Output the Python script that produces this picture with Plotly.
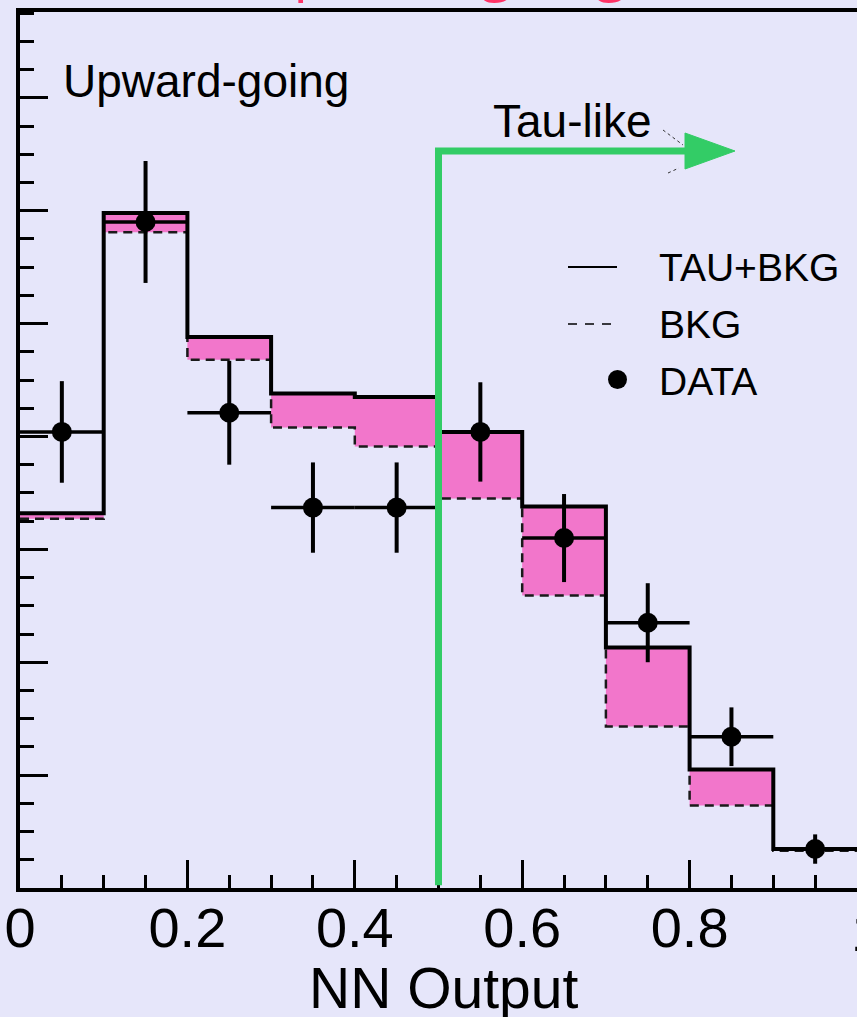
import plotly.graph_objects as go

# Neural-network output histogram, upward-going sample
bin_edges = [0.0, 0.1, 0.2, 0.3, 0.4, 0.5, 0.6, 0.7, 0.8, 0.9, 1.0]
bin_centers = [0.05, 0.15, 0.25, 0.35, 0.45, 0.55, 0.65, 0.75, 0.85, 0.95]
tau_plus_bkg = [33.2, 59.8, 48.8, 43.8, 43.5, 40.4, 33.8, 21.3, 10.5, 3.45]
bkg_only = [32.7, 58.1, 46.8, 40.8, 39.1, 34.5, 25.9, 14.3, 7.3, 3.3]
data_counts = [40.4, 59.0, 42.1, 33.7, 33.7, 40.4, 31.0, 23.5, 13.4, 3.45]
data_errors = [4.5, 5.4, 4.6, 4.0, 4.0, 4.4, 3.9, 3.5, 2.6, 1.3]
bin_half_width = [0.05] * 10

x_tick_vals = [0, 0.2, 0.4, 0.6, 0.8]
x_tick_text = ["0", "0.2", "0.4", "0.6", "0.8"]
x_end_label = "1"

legend_labels = ["TAU+BKG", "BKG", "DATA"]
cut_value = 0.5

BG = "#E6E6FA"
PINK = "#F276CB"
GREEN = "#33CC66"
TXT_FONT = "Liberation Sans, Arial, sans-serif"


def step(vals):
    # repeat the last value so the final bin gets its horizontal segment
    return list(vals) + [vals[-1]]


fig = go.Figure()

# lower edge of the shaded band (invisible)
fig.add_trace(go.Scatter(
    x=bin_edges, y=step(bkg_only), mode="lines", line_shape="hv",
    line=dict(width=0, color="rgba(0,0,0,0)"), hoverinfo="skip", showlegend=False,
))
# tau contribution: band between BKG and TAU+BKG
fig.add_trace(go.Scatter(
    x=bin_edges, y=step(tau_plus_bkg), mode="lines", line_shape="hv",
    line=dict(width=0, color="rgba(0,0,0,0)"), fill="tonexty", fillcolor=PINK,
    hoverinfo="skip", showlegend=False,
))
# BKG dashed histogram
fig.add_trace(go.Scatter(
    x=bin_edges, y=step(bkg_only), mode="lines", line_shape="hv",
    line=dict(width=2.5, color="#1a1a1a", dash="9px,6px"),
    name=legend_labels[1], showlegend=False,
))
# TAU+BKG solid histogram
fig.add_trace(go.Scatter(
    x=bin_edges, y=step(tau_plus_bkg), mode="lines", line_shape="hv",
    line=dict(width=4, color="black"),
    name=legend_labels[0], showlegend=False,
))
# data points with error bars
fig.add_trace(go.Scatter(
    x=bin_centers, y=data_counts, mode="markers",
    marker=dict(size=20, color="black"),
    error_y=dict(type="data", array=data_errors, thickness=4, width=0, color="black"),
    error_x=dict(type="data", array=bin_half_width, thickness=3.5, width=0, color="black"),
    name=legend_labels[2], showlegend=False,
))

W, H = 857, 1017
L, R, T, B = 20, 0, 12, 129
PW, PH = W - L - R, H - T - B


def px_x(px):
    return (px - L) / PW


def px_y(py):
    return (H - B - py) / PH


shapes = []
annotations = []

# green "tau-like" cut arrow
y_arrow = px_y(151)
x_head = (685 - L) / PW
x_tip = (735 - L) / PW
shapes.append(dict(
    type="path", xref="x", yref="paper", layer="above",
    path=f"M {cut_value},0.003 L {cut_value},{y_arrow} L {x_head},{y_arrow}",
    line=dict(color=GREEN, width=7),
))
shapes.append(dict(
    type="path", xref="x", yref="paper", layer="above",
    path=f"M {x_head},{px_y(133)} L {x_tip},{y_arrow} L {x_head},{px_y(169)} Z",
    fillcolor=GREEN, line=dict(color=GREEN, width=1),
))
# faint remains of the original arrow head strokes
for (a, b), (c, d) in [((663, 130), (683, 145)), ((668, 173), (679, 168))]:
    shapes.append(dict(
        type="line", xref="paper", yref="paper", layer="above",
        x0=px_x(a), y0=px_y(b), x1=px_x(c), y1=px_y(d),
        line=dict(color="#333", width=1, dash="dot"),
    ))

# legend glyphs
shapes.append(dict(type="line", xref="paper", yref="paper", layer="above",
                   x0=px_x(568), x1=px_x(617), y0=px_y(267), y1=px_y(267),
                   line=dict(color="black", width=2)))
shapes.append(dict(type="line", xref="paper", yref="paper", layer="above",
                   x0=px_x(568), x1=px_x(617), y0=px_y(324), y1=px_y(324),
                   line=dict(color="black", width=1.5, dash="9px,8px")))
shapes.append(dict(type="circle", xref="paper", yref="paper", layer="above",
                   x0=px_x(608), x1=px_x(627), y0=px_y(389), y1=px_y(370),
                   fillcolor="black", line=dict(color="black", width=0)))

for text, ty in zip(legend_labels, [267.5, 324, 381]):
    annotations.append(dict(
        text=text, xref="paper", yref="paper", x=px_x(657), y=px_y(ty),
        xanchor="left", yanchor="middle", showarrow=False,
        font=dict(family=TXT_FONT, size=39, color="black"),
    ))

annotations.append(dict(
    text="Upward-going", xref="paper", yref="paper", x=px_x(61), y=px_y(81),
    xanchor="left", yanchor="middle", showarrow=False,
    font=dict(family=TXT_FONT, size=46, color="black"),
))
annotations.append(dict(
    text="Tau-like", xref="paper", yref="paper", x=px_x(491), y=px_y(121),
    xanchor="left", yanchor="middle", showarrow=False,
    font=dict(family=TXT_FONT, size=46, color="black"),
))
# label of the x = 1 tick, which sits on the right edge of the frame
annotations.append(dict(
    text=x_end_label, xref="x", yref="paper", x=1, y=px_y(931),
    xanchor="center", yanchor="middle", xshift=9, showarrow=False,
    font=dict(family=TXT_FONT, size=56, color="black"),
))
# x-axis title
annotations.append(dict(
    text="NN Output", xref="paper", yref="paper", x=px_x(443), y=px_y(988),
    xanchor="center", yanchor="middle", showarrow=False,
    font=dict(family=TXT_FONT, size=57, color="black"),
))
# chart title, sitting above the frame
annotations.append(dict(
    text="Upward-going", xref="paper", yref="paper", x=0.5, y=1,
    xanchor="center", yanchor="bottom", yshift=4, showarrow=False,
    font=dict(family="Open Sans, sans-serif", size=57, color="#FF3366"),
))

fig.update_layout(
    width=W, height=H,
    margin=dict(l=L, r=R, t=T, b=B, pad=0),
    paper_bgcolor=BG, plot_bgcolor=BG,
    template="none",
    showlegend=False,
    shapes=shapes,
    annotations=annotations,
    xaxis=dict(
        range=[0, 1], automargin=False,
        showgrid=False, zeroline=False,
        showline=True, linecolor="black", linewidth=4, mirror=True,
        ticks="inside", ticklen=28, tickwidth=3, tickcolor="black",
        tickmode="array", tickvals=x_tick_vals + [1], ticktext=x_tick_text + [""],
        minor=dict(ticks="inside", ticklen=13, tickwidth=3, tickcolor="black",
                   tickmode="linear", tick0=0, dtick=0.05, showgrid=False),
        tickfont=dict(family=TXT_FONT, size=56, color="black"),
        ticklabelstandoff=-12,
    ),
    yaxis=dict(
        range=[0, 77.6], automargin=False,
        showgrid=False, zeroline=False,
        showline=True, linecolor="black", linewidth=4, mirror=False,
        ticks="inside", ticklen=28, tickwidth=3, tickcolor="black",
        tickmode="linear", tick0=0, dtick=10,
        minor=dict(ticks="inside", ticklen=14, tickwidth=3, tickcolor="black",
                   tickmode="linear", tick0=0, dtick=2.5, showgrid=False),
        showticklabels=False,
    ),
)

fig.write_html("out.html")
